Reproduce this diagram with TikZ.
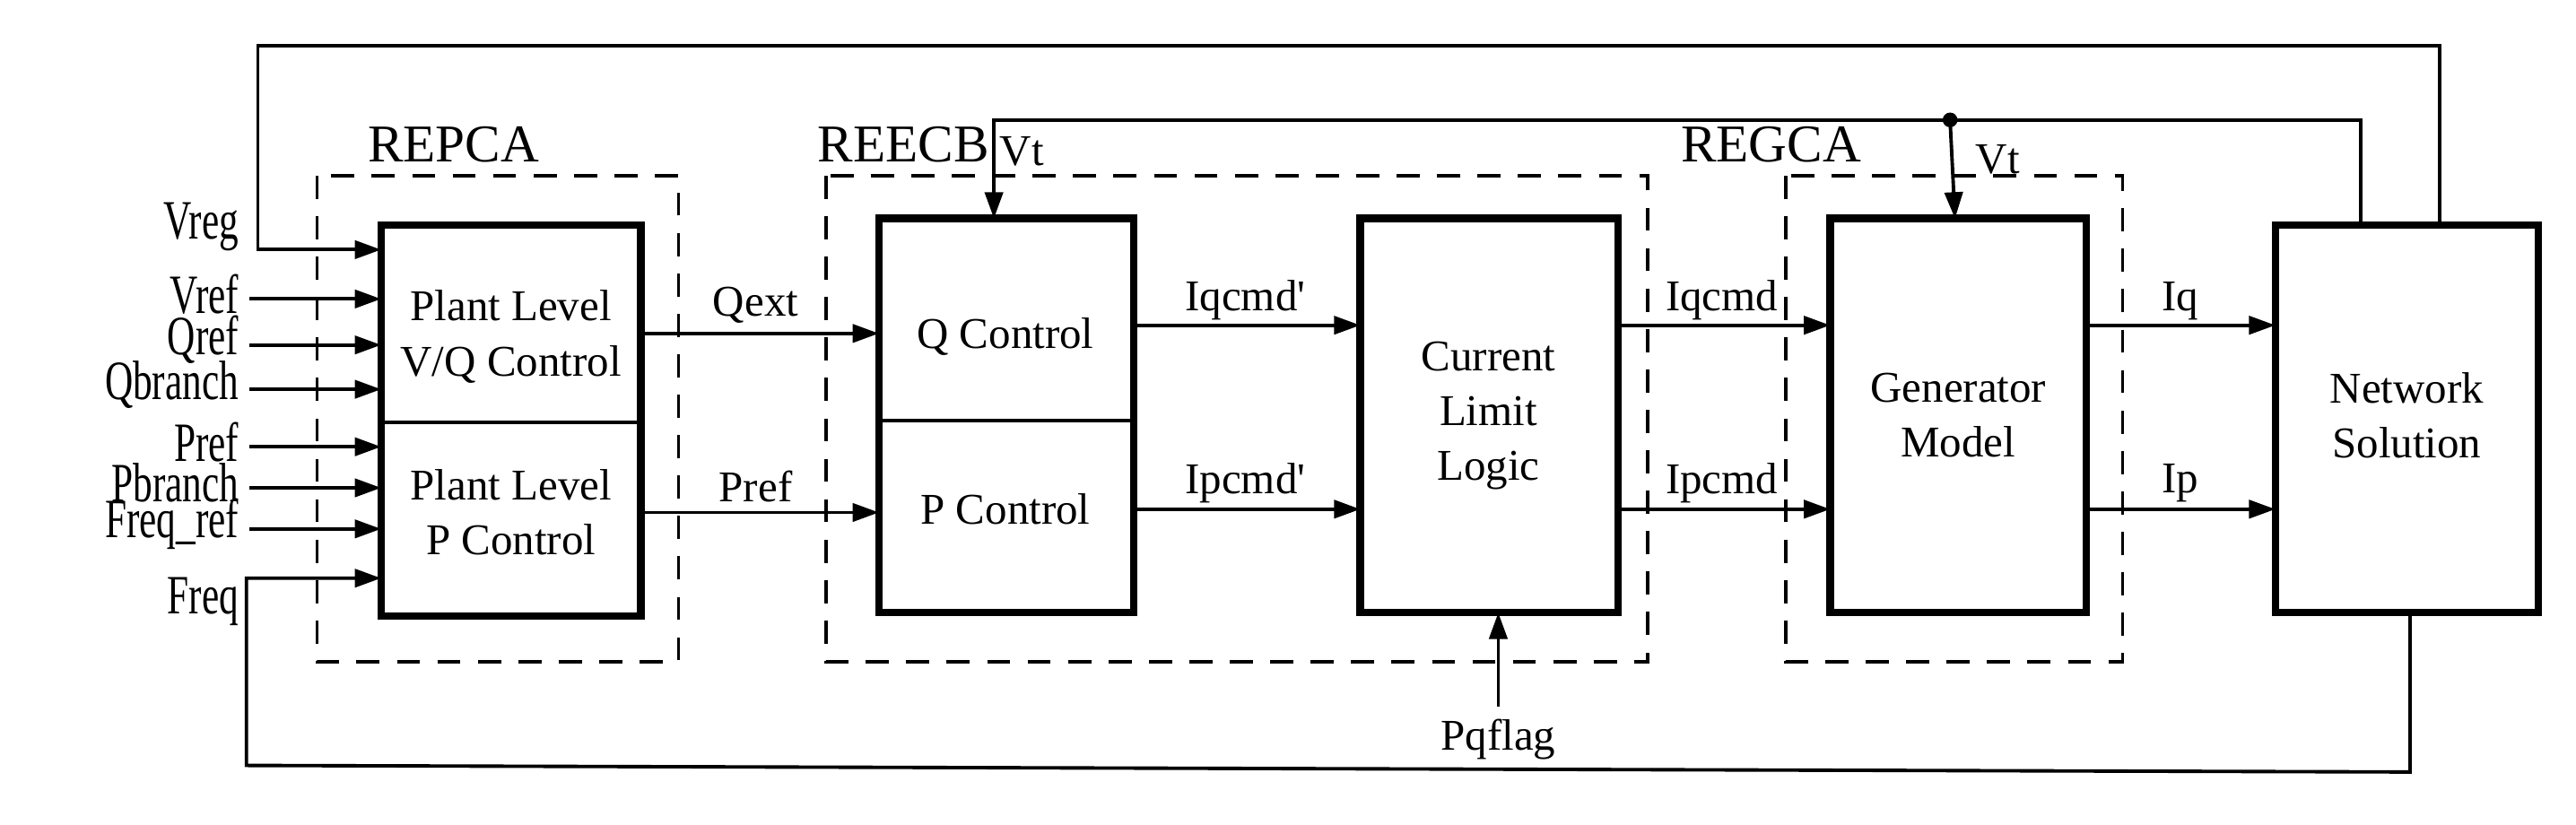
\documentclass[tikz,border=0pt]{standalone}
\usepackage{fontspec}
\setmainfont{Liberation Serif}
\usetikzlibrary{arrows.meta}
\begin{document}
\begin{tikzpicture}[x=0.01cm,y=-0.01cm,
  blk/.style={draw,line width=1.3pt,inner sep=0},
  grp/.style={draw,dashed,line width=0.6pt,dash pattern=on 4pt off 3pt},
  con/.style={line width=0.6pt},
  arr/.style={con,-{Triangle[length=1.6mm,width=1.1mm]}},
  lbl/.style={font=\fontsize{7.6}{8.6}\selectfont,inner sep=0},
  inl/.style={font=\fontsize{9.6}{9}\selectfont,inner sep=0,anchor=east},
  txt/.style={font=\fontsize{7.6}{9.5}\selectfont,align=center}]
\useasboundingbox (0,0) rectangle (1568,502);
% groups
\draw[grp] (193,107) rectangle (413,403);
\draw[grp] (503,107) rectangle (1003,403);
\draw[grp] (1087,107) rectangle (1292,403);
\node[lbl] (lrepca) at (276,88) {\fontsize{9.2}{10}\selectfont REPCA};
\node[lbl] (lreecb) at (550,88) {\fontsize{9.2}{10}\selectfont REECB};
\node[lbl] (lregca) at (1078,88) {\fontsize{9.2}{10}\selectfont REGCA};
% blocks
\draw[blk] (232,137) rectangle (390,375);
\draw[line width=0.6pt] (232,257) -- (390,257);
\node[txt] (pvq) at (311,205) {Plant Level\\V/Q Control};
\node[txt] (pp) at (311,312) {Plant Level\\P Control};
\draw[blk] (535,133) rectangle (690,373);
\draw[line width=0.6pt] (535,256) -- (690,256);
\node[txt] (qc) at (612,205) {Q Control};
\node[txt] (pc) at (612,310) {P Control};
\draw[blk] (828,133) rectangle (985,373);
\node[txt] (clt) at (906,253) {Current\\Limit\\Logic};
\draw[blk] (1114,133) rectangle (1270,373);
\node[txt] (gen) at (1192,253) {Generator\\Model};
\draw[blk] (1385,137) rectangle (1545,373);
\node[txt] (net) at (1465,253) {Network\\Solution};
% inputs
\foreach \y/\t in {182/Vref,210/Qref,237/Qbranch,272/Pref,297/Pbranch,322/Freq\_ref}{
  \draw[arr] (152,\y) -- (232,\y);
  \node[inl] at (146,\y-3) {\scalebox{0.7}[1]{\t}};}
\node[inl] (vreg) at (146,138) {\scalebox{0.7}[1]{Vreg}};
\node[inl] (freq) at (146,366) {\scalebox{0.7}[1]{Freq}};
% top feedback
\draw[arr] (1485,137) -- (1485,28) -- (157,28) -- (157,152) -- (232,152);
% Vt
\draw[arr] (1437,137) -- (1437,73) -- (605,73) -- (605,133);
\coordinate (dot) at (1187,73);
\fill (dot) circle (4.5);
\draw[arr] (dot) -- (1190,133);
\node[lbl] (vt1) at (622,92) {Vt};
\node[lbl] (vt2) at (1216,97) {Vt};
% bottom feedback
\draw[arr] (1467,373) -- (1467,470) -- (150,466) -- (150,352) -- (232,352);
% connections
\draw[arr] (390,203) -- (535,203); \node[lbl] at (460,186) {Qext};
\draw[arr] (390,312) -- (535,312); \node[lbl] at (460,296) {Pref};
\draw[arr] (690,198) -- (828,198); \node[lbl] at (758,183) {Iqcmd\textquotesingle};
\draw[arr] (690,310) -- (828,310); \node[lbl] at (758,294) {Ipcmd\textquotesingle};
\draw[arr] (985,198) -- (1114,198); \node[lbl] at (1048,183) {Iqcmd};
\draw[arr] (985,310) -- (1114,310); \node[lbl] at (1048,294) {Ipcmd};
\draw[arr] (1270,198) -- (1385,198); \node[lbl] at (1327,183) {Iq};
\draw[arr] (1270,310) -- (1385,310); \node[lbl] at (1327,294) {Ip};
\draw[arr] (912,430) -- (912,373); \node[lbl] at (912,450) {Pqflag};
\end{tikzpicture}
\end{document}
